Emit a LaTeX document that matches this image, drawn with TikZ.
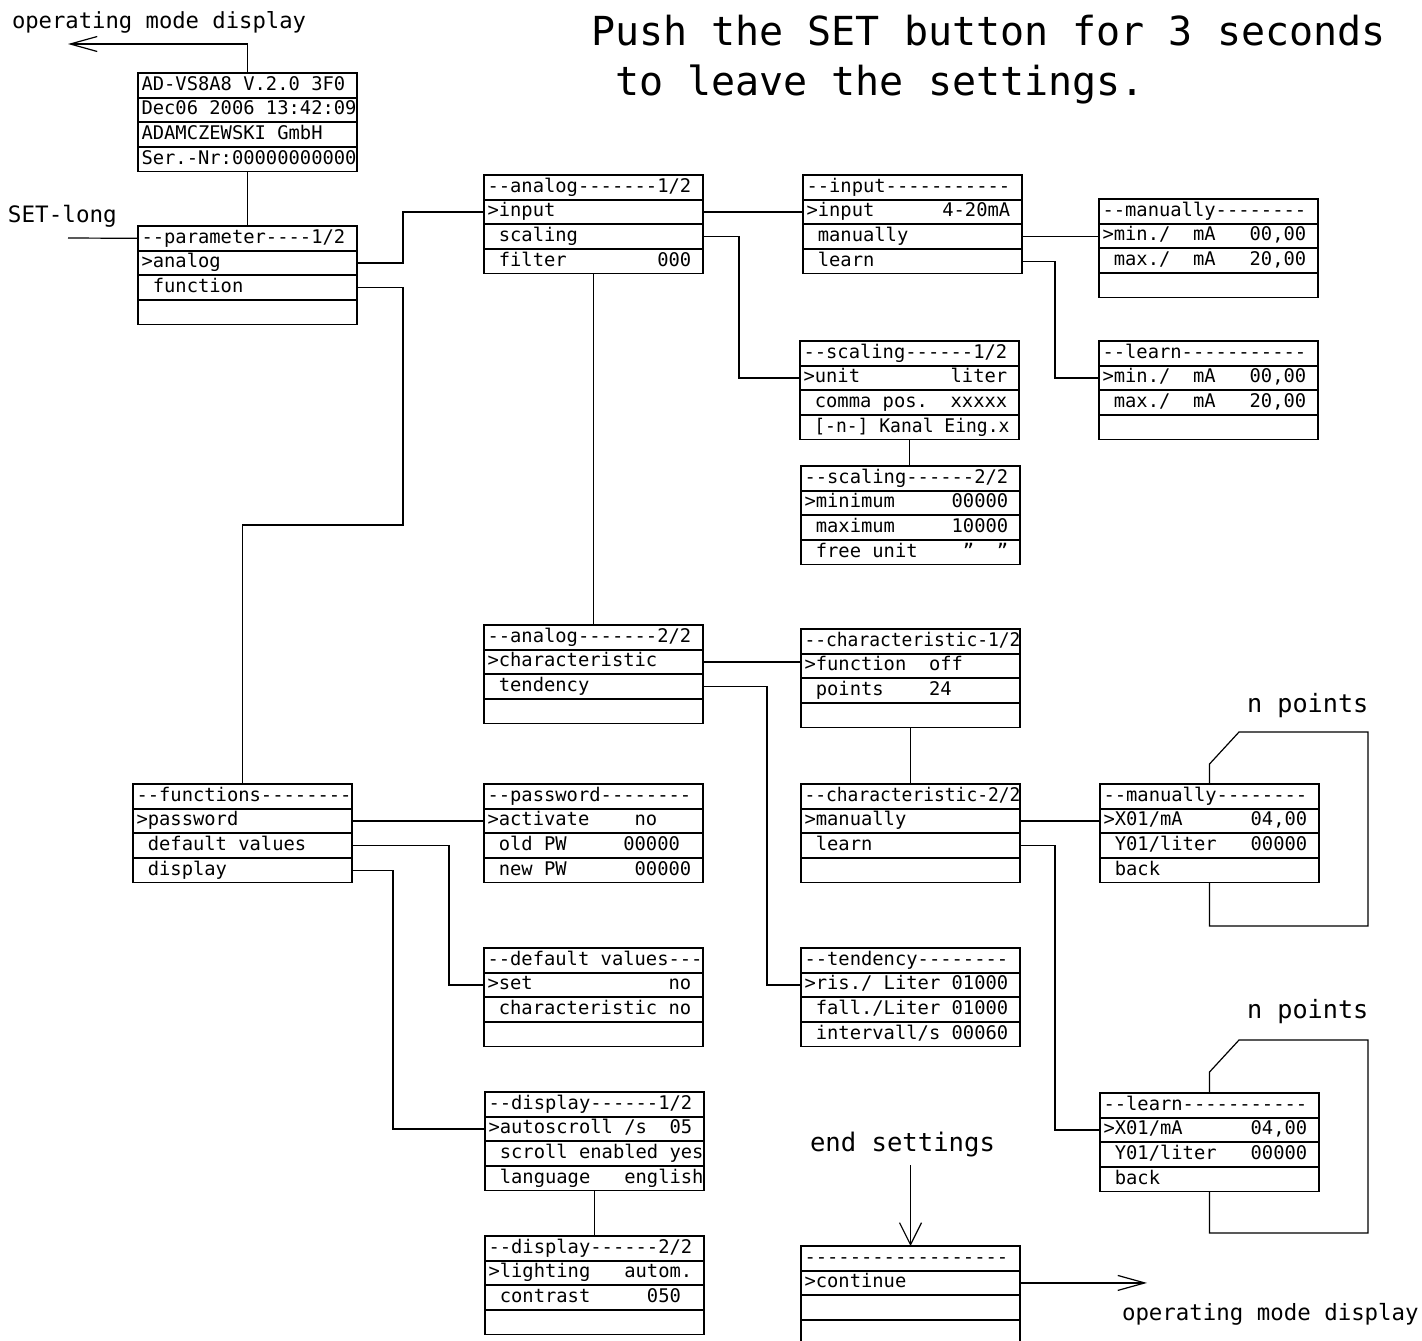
\documentclass[tikz,border=0pt]{standalone}
\usepackage{fontspec}
\usepackage{graphicx}
\setmonofont{DejaVu Sans Mono}
\usetikzlibrary{arrows.meta}
\newcommand\boxfont{\ttfamily\fontsize{9.4}{11}\selectfont}
\newcommand\menubox[6]{%
  \node[rowbox] (#1-1) at (#2) {\hbox to 106pt{#3\hss}};
  \node[rowbox] (#1-2) at (#1-1.south west) {\hbox to 106pt{#4\hss}};
  \node[rowbox] (#1-3) at (#1-2.south west) {\hbox to 106pt{#5\hss}};
  \node[rowbox] (#1-4) at (#1-3.south west) {\hbox to 106pt{#6\hss}};
}
\tikzset{
  rowbox/.style={draw, line width=0.9pt, minimum width=109.5pt, minimum height=12.3pt,
    inner xsep=1.75pt, inner ysep=0pt, outer sep=0pt, text height=7pt, text depth=2pt,
    anchor=north west, font=\boxfont},
  conn/.style={line width=0.6pt},
  longtip/.style={-{Straight Barb[length=13.5pt,width=7.5pt]}},
  downtip/.style={-{Straight Barb[length=11pt,width=11pt]}},
  label/.style={anchor=base west, inner sep=0pt, outer sep=0pt},
}
\begin{document}
\begin{tikzpicture}[x=0.5pt, y=-0.5pt]
\useasboundingbox (0,0) rectangle (1422,1340);
\fill[white] (0,0) rectangle (1422,1340);

% texts
\node[label, font=\ttfamily\fontsize{11.1}{13}\selectfont] (opmtxt1) at (12,28) {operating mode display};
\node[label, font=\ttfamily\fontsize{11.3}{13}\selectfont] (settxt) at (8,222) {SET-long};
\node[label, font=\ttfamily\fontsize{20}{24}\selectfont] (title1) at (591,45) {Push the SET button for 3 seconds};
\node[label, font=\ttfamily\fontsize{20}{24}\selectfont] (title2) at (591,95) {~to leave the settings.};
\node[label, font=\ttfamily\fontsize{12.6}{15}\selectfont] (np1) at (1247,712) {n points};
\node[label, font=\ttfamily\fontsize{12.6}{15}\selectfont] (np2) at (1247,1018) {n points};
\node[label, font=\ttfamily\fontsize{12.8}{15}\selectfont] (endtxt) at (810,1151) {end settings};
\node[label, font=\ttfamily\fontsize{11.2}{13}\selectfont] (opmtxt2) at (1122,1320) {operating mode display};

% boxes
\menubox{info}{138,73}{AD-VS8A8~V.2.0~3F0}{Dec06~2006~13:42:09}{ADAMCZEWSKI~GmbH}{Ser.-Nr:00000000000}
\menubox{param}{138,226}{--parameter----1/2}{>analog}{~function}{}
\menubox{an1}{484,175}{--analog-------1/2}{>input}{~scaling}{~filter~~~~~~~~000}
\menubox{inp}{803,175}{--input-----------}{>input~~~~~~4-20mA}{~manually}{~learn}
\menubox{manT}{1099,199}{--manually--------}{>min./~~mA~~~00,00}{~max./~~mA~~~20,00}{}
\menubox{sc1}{800,341}{--scaling------1/2}{>unit~~~~~~~~liter}{~comma~pos.~~xxxxx}{\resizebox{103pt}{\height}{~[-n-]~Kanal~Eing.x}}
\menubox{lrnT}{1099,341}{--learn-----------}{>min./~~mA~~~00,00}{~max./~~mA~~~20,00}{}
\menubox{sc2}{801,466}{--scaling------2/2}{>minimum~~~~~00000}{~maximum~~~~~10000}{~free~unit~~~~”~~”}
\menubox{an2}{484,625}{--analog-------2/2}{>characteristic}{~tendency}{}
\menubox{ch1}{801,629}{\resizebox{108pt}{\height}{--characteristic-1/2}}{>function~~off}{~points~~~~24}{}
\menubox{fun}{133,784}{--functions--------}{>password}{~default~values}{~display}
\menubox{pw}{484,784}{--password--------}{>activate~~~~no}{~old~PW~~~~~00000}{~new~PW~~~~~~00000}
\menubox{ch2}{801,784}{\resizebox{108pt}{\height}{--characteristic-2/2}}{>manually}{~learn}{}
\menubox{manB}{1100,784}{--manually--------}{>X01/mA~~~~~~04,00}{~Y01/liter~~~00000}{~back}
\menubox{dv}{484,948}{--default~values---}{>set~~~~~~~~~~~~no}{~characteristic~no}{}
\menubox{td}{801,948}{--tendency--------}{>ris./~Liter~01000}{~fall./Liter~01000}{~intervall/s~00060}
\menubox{dp1}{485,1092}{--display------1/2}{>autoscroll~/s~~05}{~scroll~enabled~yes}{~language~~~english}
\menubox{dp2}{485,1236}{--display------2/2}{>lighting~~~autom.}{~contrast~~~~~050}{}
\menubox{lrnB}{1100,1093}{--learn-----------}{>X01/mA~~~~~~04,00}{~Y01/liter~~~00000}{~back}
\menubox{endb}{801,1246}{------------------}{>continue}{}{}

% helper coordinates
\coordinate (opm1) at (68,44);
\coordinate (setl) at (68,238);
\coordinate (opm2) at (1147,0);
\coordinate (esl) at (0,1165);
\coordinate (v403) at (403,0);
\coordinate (v739) at (739,0);
\coordinate (v1055) at (1055,0);
\coordinate (v767) at (767,0);
\coordinate (v449) at (449,0);
\coordinate (v393) at (393,0);
\coordinate (h525) at (0,525);

% connectors
\draw[conn, longtip] (info-1.north) |- (opm1);
\draw[conn] (info-4.south) -- (param-1.north);
\draw[conn] (setl) -- (param-1.west);
\draw[conn] (param-2.east) -| (v403 |- an1-2.west) -- (an1-2.west);
\draw[conn] (param-3.east) -| (v403 |- h525) -| (fun-1.north);
\draw[conn] (an1-2.east) -- (inp-2.west);
\draw[conn] (an1-3.east) -| (v739 |- sc1-2.west) -- (sc1-2.west);
\draw[conn] (an1-4.south) -- (an2-1.north);
\draw[conn] (inp-3.east) -- (inp-3.east -| manT-2.west);
\draw[conn] (inp-4.east) -| (v1055 |- lrnT-2.west) -- (lrnT-2.west);
\draw[conn] (sc1-4.south) -- (sc1-4.south |- sc2-1.north);
\draw[conn] (an2-2.east) -- (an2-2.east -| ch1-2.west);
\draw[conn] (an2-3.east) -| (v767 |- td-2.west) -- (td-2.west);
\draw[conn] (ch1-4.south) -- (ch2-1.north);
\draw[conn] (fun-2.east) -- (pw-2.west);
\draw[conn] (fun-3.east) -| (v449 |- dv-2.west) -- (dv-2.west);
\draw[conn] (fun-4.east) -| (v393 |- dp1-2.west) -- (dp1-2.west);
\draw[conn] (dp1-4.south) -- (dp2-1.north);
\draw[conn] (ch2-2.east) -- (manB-2.west);
\draw[conn] (ch2-3.east) -| (v1055 |- lrnB-2.west) -- (lrnB-2.west);
% n points loops
\draw[conn] (manB-1.north) -- (1209.5,764) -- (1239,732) -- (1368,732) -- (1368,926) -| (manB-4.south);
\draw[conn] (lrnB-1.north) -- (1209.5,1072) -- (1239,1040) -- (1368,1040) -- (1368,1233) -| (lrnB-4.south);
% end settings
\draw[conn, downtip] (endb-1.north |- esl) -- (endb-1.north);
\draw[conn, longtip] (endb-2.east) -- (endb-2.east -| opm2);
\end{tikzpicture}
\end{document}
